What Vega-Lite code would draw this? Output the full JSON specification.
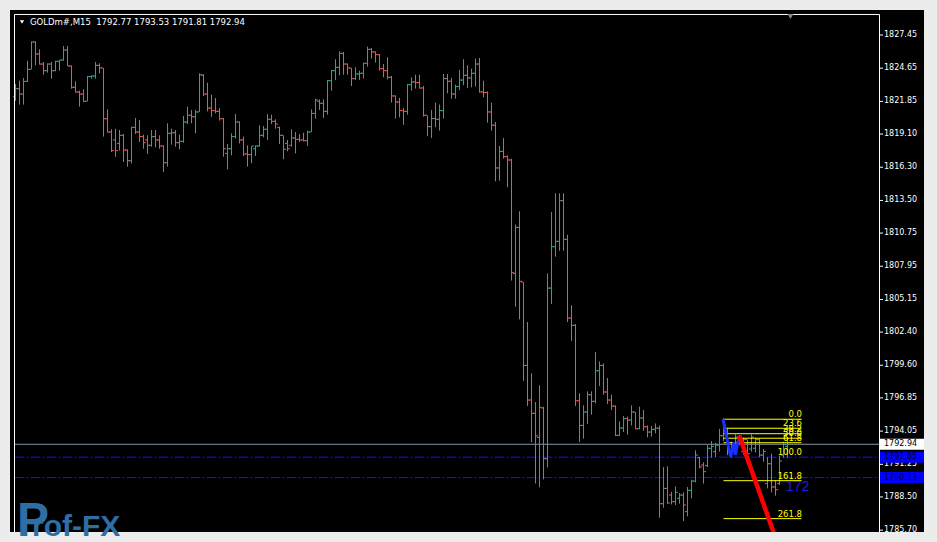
{
"$schema": "https://vega.github.io/schema/vega-lite/v6.json",
"width": 914, "height": 522,
"autosize": {"type": "none"},
"padding": {"left": 10, "top": 10, "right": 13, "bottom": 10},
"background": "#ececec",
"config": {"view": {"fill": "#000000", "stroke": null}},
"datasets": {
"ohlc": [
{"bar":1,"open":1822.25,"high":1823.32,"low":1821.91,"close":1822.92},
{"bar":2,"open":1822.92,"high":1823.60,"low":1821.58,"close":1822.47},
{"bar":3,"open":1822.47,"high":1823.82,"low":1821.58,"close":1823.54},
{"bar":4,"open":1823.54,"high":1825.28,"low":1823.49,"close":1824.55},
{"bar":5,"open":1824.55,"high":1826.92,"low":1824.55,"close":1826.86},
{"bar":6,"open":1826.86,"high":1826.92,"low":1824.89,"close":1825.85},
{"bar":7,"open":1825.85,"high":1826.24,"low":1824.95,"close":1825.00},
{"bar":8,"open":1825.00,"high":1825.17,"low":1824.10,"close":1824.44},
{"bar":9,"open":1824.44,"high":1825.06,"low":1824.27,"close":1825.00},
{"bar":10,"open":1825.00,"high":1825.17,"low":1823.77,"close":1824.44},
{"bar":11,"open":1824.44,"high":1825.28,"low":1824.39,"close":1825.23},
{"bar":12,"open":1825.23,"high":1825.34,"low":1824.44,"close":1825.34},
{"bar":13,"open":1825.34,"high":1826.52,"low":1825.28,"close":1826.18},
{"bar":14,"open":1826.18,"high":1826.52,"low":1824.83,"close":1824.83},
{"bar":15,"open":1824.83,"high":1824.89,"low":1822.92,"close":1823.04},
{"bar":16,"open":1823.04,"high":1823.54,"low":1822.59,"close":1822.64},
{"bar":17,"open":1822.64,"high":1822.76,"low":1821.41,"close":1822.47},
{"bar":18,"open":1822.47,"high":1822.87,"low":1821.80,"close":1821.86},
{"bar":19,"open":1821.86,"high":1823.99,"low":1821.86,"close":1823.94},
{"bar":20,"open":1823.94,"high":1824.05,"low":1823.77,"close":1823.99},
{"bar":21,"open":1823.99,"high":1825.17,"low":1823.77,"close":1824.89},
{"bar":22,"open":1824.89,"high":1825.06,"low":1824.22,"close":1824.67},
{"bar":23,"open":1824.67,"high":1824.67,"low":1818.88,"close":1820.39},
{"bar":24,"open":1820.39,"high":1821.18,"low":1819.21,"close":1819.27},
{"bar":25,"open":1819.27,"high":1819.50,"low":1817.58,"close":1817.70},
{"bar":26,"open":1818.60,"high":1819.55,"low":1817.19,"close":1817.70},
{"bar":27,"open":1818.31,"high":1819.44,"low":1817.70,"close":1818.99},
{"bar":28,"open":1818.99,"high":1819.10,"low":1816.74,"close":1817.75},
{"bar":29,"open":1817.75,"high":1817.81,"low":1816.35,"close":1816.85},
{"bar":30,"open":1816.85,"high":1819.72,"low":1816.63,"close":1819.66},
{"bar":31,"open":1819.66,"high":1820.45,"low":1819.10,"close":1819.27},
{"bar":32,"open":1819.27,"high":1820.28,"low":1818.43,"close":1818.88},
{"bar":33,"open":1818.88,"high":1819.05,"low":1817.86,"close":1818.37},
{"bar":34,"open":1818.60,"high":1818.99,"low":1817.42,"close":1818.15},
{"bar":35,"open":1818.15,"high":1819.44,"low":1818.03,"close":1818.88},
{"bar":36,"open":1818.88,"high":1819.44,"low":1817.98,"close":1818.60},
{"bar":37,"open":1818.60,"high":1818.99,"low":1817.86,"close":1818.09},
{"bar":38,"open":1818.09,"high":1818.15,"low":1815.90,"close":1816.68},
{"bar":39,"open":1816.68,"high":1820.00,"low":1816.35,"close":1819.16},
{"bar":40,"open":1819.16,"high":1819.55,"low":1818.20,"close":1819.21},
{"bar":41,"open":1819.21,"high":1819.44,"low":1818.03,"close":1818.37},
{"bar":42,"open":1818.37,"high":1819.05,"low":1817.81,"close":1818.48},
{"bar":43,"open":1818.48,"high":1820.62,"low":1818.37,"close":1820.11},
{"bar":44,"open":1820.11,"high":1821.41,"low":1819.94,"close":1820.68},
{"bar":45,"open":1820.68,"high":1821.13,"low":1820.00,"close":1820.56},
{"bar":46,"open":1820.56,"high":1821.13,"low":1819.16,"close":1820.96},
{"bar":47,"open":1820.96,"high":1824.22,"low":1820.96,"close":1824.10},
{"bar":48,"open":1824.05,"high":1824.16,"low":1822.31,"close":1822.47},
{"bar":49,"open":1822.47,"high":1823.43,"low":1821.01,"close":1821.29},
{"bar":50,"open":1821.29,"high":1822.42,"low":1820.56,"close":1821.07},
{"bar":51,"open":1821.07,"high":1822.14,"low":1820.84,"close":1821.01},
{"bar":52,"open":1821.01,"high":1821.29,"low":1820.23,"close":1820.39},
{"bar":53,"open":1820.39,"high":1820.45,"low":1817.19,"close":1817.86},
{"bar":54,"open":1817.47,"high":1818.26,"low":1816.12,"close":1817.86},
{"bar":55,"open":1817.86,"high":1819.16,"low":1817.30,"close":1818.88},
{"bar":56,"open":1818.88,"high":1820.79,"low":1818.71,"close":1820.11},
{"bar":57,"open":1820.11,"high":1820.17,"low":1818.31,"close":1818.60},
{"bar":58,"open":1818.60,"high":1818.88,"low":1817.25,"close":1817.42},
{"bar":59,"open":1817.42,"high":1818.15,"low":1816.35,"close":1817.36},
{"bar":60,"open":1817.36,"high":1818.09,"low":1816.63,"close":1818.09},
{"bar":61,"open":1817.86,"high":1818.15,"low":1817.25,"close":1818.09},
{"bar":62,"open":1818.09,"high":1819.83,"low":1818.03,"close":1818.99},
{"bar":63,"open":1818.99,"high":1819.78,"low":1818.82,"close":1819.50},
{"bar":64,"open":1819.50,"high":1820.79,"low":1818.60,"close":1820.34},
{"bar":65,"open":1820.34,"high":1820.73,"low":1819.94,"close":1820.17},
{"bar":66,"open":1820.17,"high":1820.34,"low":1819.55,"close":1819.94},
{"bar":67,"open":1819.66,"high":1819.72,"low":1818.26,"close":1818.99},
{"bar":68,"open":1818.99,"high":1818.99,"low":1816.97,"close":1817.81},
{"bar":69,"open":1818.31,"high":1818.60,"low":1817.64,"close":1817.86},
{"bar":70,"open":1818.15,"high":1819.50,"low":1818.03,"close":1818.76},
{"bar":71,"open":1818.76,"high":1819.27,"low":1817.47,"close":1818.65},
{"bar":72,"open":1818.65,"high":1819.10,"low":1818.43,"close":1818.60},
{"bar":73,"open":1818.60,"high":1819.21,"low":1818.48,"close":1818.54},
{"bar":74,"open":1818.54,"high":1819.38,"low":1818.09,"close":1819.27},
{"bar":75,"open":1819.27,"high":1821.18,"low":1819.27,"close":1820.84},
{"bar":76,"open":1820.84,"high":1822.08,"low":1820.39,"close":1821.97},
{"bar":77,"open":1821.86,"high":1822.02,"low":1821.13,"close":1821.69},
{"bar":78,"open":1821.69,"high":1822.02,"low":1820.45,"close":1821.01},
{"bar":79,"open":1821.01,"high":1823.65,"low":1820.73,"close":1823.60},
{"bar":80,"open":1823.60,"high":1824.50,"low":1822.76,"close":1824.44},
{"bar":81,"open":1824.44,"high":1825.40,"low":1823.65,"close":1824.72},
{"bar":82,"open":1824.72,"high":1826.07,"low":1824.05,"close":1825.90},
{"bar":83,"open":1825.90,"high":1826.02,"low":1824.10,"close":1825.00},
{"bar":84,"open":1825.00,"high":1825.06,"low":1824.10,"close":1824.67},
{"bar":85,"open":1824.67,"high":1824.67,"low":1823.15,"close":1823.77},
{"bar":86,"open":1823.77,"high":1824.72,"low":1823.65,"close":1824.16},
{"bar":87,"open":1824.16,"high":1824.44,"low":1823.65,"close":1824.22},
{"bar":88,"open":1824.22,"high":1825.12,"low":1823.77,"close":1825.06},
{"bar":89,"open":1825.06,"high":1826.47,"low":1824.78,"close":1826.24},
{"bar":90,"open":1826.24,"high":1826.36,"low":1825.46,"close":1826.02},
{"bar":91,"open":1826.02,"high":1826.07,"low":1825.12,"close":1825.79},
{"bar":92,"open":1825.79,"high":1825.85,"low":1824.44,"close":1824.61},
{"bar":93,"open":1824.61,"high":1825.00,"low":1823.88,"close":1824.44},
{"bar":94,"open":1824.44,"high":1825.57,"low":1823.71,"close":1823.88},
{"bar":95,"open":1823.88,"high":1824.00,"low":1821.75,"close":1822.31},
{"bar":96,"open":1822.31,"high":1822.36,"low":1820.40,"close":1821.80},
{"bar":97,"open":1821.80,"high":1822.14,"low":1820.51,"close":1821.07},
{"bar":98,"open":1821.07,"high":1821.30,"low":1819.89,"close":1821.01},
{"bar":99,"open":1821.01,"high":1823.32,"low":1820.73,"close":1823.26},
{"bar":100,"open":1823.26,"high":1823.88,"low":1822.76,"close":1823.49},
{"bar":101,"open":1823.49,"high":1824.10,"low":1822.93,"close":1823.43},
{"bar":102,"open":1823.43,"high":1824.10,"low":1822.93,"close":1822.98},
{"bar":103,"open":1822.98,"high":1823.15,"low":1820.57,"close":1820.68},
{"bar":104,"open":1820.68,"high":1820.68,"low":1818.94,"close":1819.72},
{"bar":105,"open":1819.72,"high":1821.13,"low":1818.77,"close":1820.40},
{"bar":106,"open":1820.40,"high":1821.75,"low":1819.67,"close":1820.34},
{"bar":107,"open":1820.34,"high":1821.58,"low":1819.39,"close":1821.07},
{"bar":108,"open":1821.07,"high":1824.16,"low":1820.40,"close":1823.77},
{"bar":109,"open":1823.77,"high":1824.16,"low":1822.53,"close":1823.55},
{"bar":110,"open":1823.55,"high":1823.83,"low":1822.08,"close":1822.48},
{"bar":111,"open":1822.48,"high":1823.26,"low":1822.08,"close":1823.10},
{"bar":112,"open":1823.10,"high":1824.50,"low":1822.81,"close":1823.65},
{"bar":113,"open":1823.65,"high":1825.40,"low":1823.21,"close":1824.05},
{"bar":114,"open":1824.05,"high":1824.89,"low":1822.98,"close":1823.83},
{"bar":115,"open":1823.83,"high":1824.61,"low":1823.04,"close":1824.22},
{"bar":116,"open":1824.22,"high":1825.46,"low":1823.10,"close":1825.00},
{"bar":117,"open":1825.00,"high":1825.51,"low":1822.59,"close":1822.65},
{"bar":118,"open":1822.65,"high":1823.60,"low":1822.20,"close":1822.59},
{"bar":119,"open":1822.59,"high":1822.70,"low":1820.06,"close":1820.96},
{"bar":120,"open":1820.96,"high":1821.75,"low":1819.39,"close":1819.84},
{"bar":121,"open":1819.84,"high":1820.12,"low":1815.11,"close":1816.24},
{"bar":122,"open":1816.24,"high":1818.09,"low":1815.17,"close":1817.64},
{"bar":123,"open":1817.64,"high":1818.77,"low":1817.02,"close":1817.19},
{"bar":124,"open":1817.19,"high":1817.30,"low":1814.61,"close":1816.91},
{"bar":125,"open":1816.91,"high":1817.02,"low":1806.74,"close":1807.41},
{"bar":126,"open":1807.35,"high":1811.46,"low":1804.54,"close":1811.23},
{"bar":127,"open":1811.23,"high":1812.58,"low":1803.47,"close":1806.68},
{"bar":128,"open":1806.62,"high":1806.62,"low":1798.30,"close":1799.59},
{"bar":129,"open":1799.59,"high":1803.25,"low":1796.16,"close":1796.67},
{"bar":130,"open":1796.67,"high":1798.92,"low":1793.13,"close":1795.55},
{"bar":131,"open":1795.55,"high":1796.50,"low":1789.64,"close":1793.64},
{"bar":132,"open":1793.52,"high":1797.91,"low":1789.31,"close":1796.05},
{"bar":133,"open":1796.00,"high":1796.11,"low":1789.98,"close":1791.72},
{"bar":134,"open":1791.72,"high":1807.35,"low":1790.99,"close":1806.11},
{"bar":135,"open":1806.11,"high":1812.52,"low":1804.77,"close":1809.60},
{"bar":136,"open":1809.60,"high":1814.10,"low":1808.76,"close":1810.05},
{"bar":137,"open":1810.05,"high":1814.10,"low":1809.26,"close":1813.48},
{"bar":138,"open":1813.48,"high":1814.10,"low":1809.26,"close":1810.22},
{"bar":139,"open":1810.22,"high":1810.61,"low":1803.25,"close":1803.58},
{"bar":140,"open":1803.58,"high":1804.65,"low":1801.67,"close":1802.97},
{"bar":141,"open":1802.97,"high":1803.08,"low":1796.16,"close":1796.61},
{"bar":142,"open":1796.61,"high":1797.23,"low":1793.13,"close":1794.53},
{"bar":143,"open":1794.53,"high":1796.22,"low":1793.41,"close":1795.66},
{"bar":144,"open":1795.66,"high":1797.40,"low":1794.65,"close":1797.12},
{"bar":145,"open":1797.12,"high":1797.40,"low":1795.43,"close":1796.56},
{"bar":146,"open":1796.56,"high":1800.72,"low":1796.39,"close":1799.14},
{"bar":147,"open":1799.14,"high":1799.93,"low":1797.85,"close":1799.59},
{"bar":148,"open":1799.59,"high":1799.76,"low":1797.12,"close":1797.35},
{"bar":149,"open":1797.35,"high":1798.53,"low":1796.33,"close":1796.67},
{"bar":150,"open":1796.67,"high":1797.12,"low":1795.83,"close":1796.16},
{"bar":151,"open":1796.16,"high":1796.22,"low":1793.64,"close":1793.69},
{"bar":152,"open":1793.69,"high":1794.87,"low":1793.64,"close":1794.31},
{"bar":153,"open":1794.31,"high":1795.32,"low":1793.97,"close":1795.10},
{"bar":154,"open":1795.10,"high":1795.27,"low":1793.75,"close":1794.98},
{"bar":155,"open":1794.98,"high":1796.22,"low":1794.53,"close":1795.66},
{"bar":156,"open":1795.66,"high":1795.66,"low":1794.20,"close":1794.25},
{"bar":157,"open":1794.25,"high":1796.11,"low":1794.20,"close":1795.15},
{"bar":158,"open":1795.15,"high":1795.83,"low":1794.08,"close":1794.42},
{"bar":159,"open":1794.42,"high":1794.53,"low":1793.52,"close":1793.97},
{"bar":160,"open":1793.97,"high":1794.48,"low":1793.58,"close":1794.20},
{"bar":161,"open":1794.20,"high":1794.70,"low":1793.86,"close":1794.31},
{"bar":162,"open":1794.28,"high":1794.51,"low":1786.75,"close":1787.93},
{"bar":163,"open":1787.93,"high":1791.02,"low":1787.59,"close":1789.22},
{"bar":164,"open":1789.22,"high":1791.08,"low":1787.93,"close":1787.99},
{"bar":165,"open":1788.66,"high":1788.94,"low":1787.87,"close":1788.10},
{"bar":166,"open":1788.10,"high":1789.39,"low":1787.82,"close":1788.89},
{"bar":167,"open":1788.38,"high":1788.83,"low":1787.93,"close":1788.66},
{"bar":168,"open":1788.66,"high":1788.89,"low":1786.47,"close":1787.82},
{"bar":169,"open":1787.26,"high":1789.34,"low":1786.86,"close":1789.06},
{"bar":170,"open":1789.06,"high":1789.95,"low":1788.38,"close":1789.84},
{"bar":171,"open":1789.84,"high":1792.43,"low":1789.73,"close":1792.03},
{"bar":172,"open":1791.81,"high":1791.87,"low":1790.91,"close":1791.02},
{"bar":173,"open":1791.19,"high":1791.42,"low":1789.62,"close":1790.63},
{"bar":174,"open":1791.14,"high":1792.88,"low":1791.02,"close":1792.60},
{"bar":175,"open":1792.60,"high":1793.22,"low":1791.81,"close":1792.77},
{"bar":176,"open":1792.32,"high":1793.05,"low":1791.87,"close":1792.88},
{"bar":177,"open":1792.88,"high":1794.23,"low":1792.32,"close":1793.66},
{"bar":178,"open":1793.66,"high":1795.13,"low":1793.22,"close":1794.56},
{"bar":179,"open":1794.00,"high":1794.28,"low":1792.03,"close":1792.32},
{"bar":180,"open":1792.32,"high":1793.16,"low":1791.81,"close":1792.93},
{"bar":181,"open":1792.93,"high":1793.78,"low":1792.15,"close":1793.55},
{"bar":182,"open":1793.55,"high":1793.72,"low":1792.99,"close":1793.16},
{"bar":183,"open":1792.32,"high":1793.50,"low":1792.03,"close":1793.33},
{"bar":184,"open":1793.33,"high":1793.33,"low":1791.81,"close":1792.15},
{"bar":185,"open":1792.54,"high":1793.78,"low":1792.32,"close":1793.55},
{"bar":186,"open":1792.60,"high":1793.50,"low":1792.26,"close":1793.33},
{"bar":187,"open":1793.33,"high":1793.44,"low":1791.87,"close":1792.03},
{"bar":188,"open":1792.03,"high":1792.54,"low":1791.47,"close":1792.32},
{"bar":189,"open":1789.62,"high":1791.87,"low":1789.22,"close":1791.30},
{"bar":190,"open":1791.30,"high":1792.15,"low":1788.89,"close":1789.34},
{"bar":191,"open":1789.34,"high":1789.90,"low":1788.61,"close":1789.11},
{"bar":192,"open":1789.62,"high":1791.98,"low":1789.51,"close":1791.53},
{"bar":193,"open":1792.03,"high":1793.16,"low":1791.81,"close":1792.93},
{"bar":194,"open":1792.77,"high":1793.53,"low":1791.81,"close":1792.94}
],
"yticks": [{"price": 1827.45}, {"price": 1824.65}, {"price": 1821.85}, {"price": 1819.10}, {"price": 1816.30}, {"price": 1813.50}, {"price": 1810.75}, {"price": 1807.95}, {"price": 1805.15}, {"price": 1802.40}, {"price": 1799.60}, {"price": 1796.85}, {"price": 1794.05}, {"price": 1791.25}, {"price": 1788.50}, {"price": 1785.70}],
"bid": [{"price": 1792.94}],
"levels": [{"price": 1791.85}, {"price": 1790.13}],
"boxes": [{"price": 1792.94, "kind": "bid"}, {"price": 1791.85, "kind": "level"}, {"price": 1790.13, "kind": "level"}],
"fib": [
{"level": "0.0", "price": 1795.05},
{"level": "23.6", "price": 1794.29},
{"level": "38.2", "price": 1793.83},
{"level": "50.0", "price": 1793.45},
{"level": "61.8", "price": 1793.07},
{"level": "100.0", "price": 1791.85},
{"level": "161.8", "price": 1789.87},
{"level": "261.8", "price": 1786.67}
],
"zigzag": [
{"seq": 1, "bar": 177.875, "price": 1795.07},
{"seq": 2, "bar": 179.8, "price": 1791.87},
{"seq": 3, "bar": 180.625, "price": 1793.11},
{"seq": 4, "bar": 180.95, "price": 1792.04},
{"seq": 5, "bar": 181.95, "price": 1793.66}
],
"trend": [
{"seq": 1, "bar": 181.95, "price": 1793.66},
{"seq": 2, "bar": 191.65, "price": 1784.45}
],
"one": [{}],
"title": [{"label": "GOLDm#,M15\u00a0 1792.77 1793.53 1791.81 1792.94"}],
"count": [{"label": "172"}],
"logoP": [{"label": "P"}],
"logoRest": [{"label": "rof-FX"}]
},
"layer": [
{
"data": {"name": "bid"},
"mark": {"type": "rule", "color": "#8796a4", "strokeWidth": 1},
"encoding": {
"x": {"datum": 0.75, "type": "quantitative", "scale": {"type": "linear", "domain": [-0.375, 228.125], "nice": false, "zero": false}, "axis": null},
"x2": {"datum": 217.0},
"y": {"field": "price", "type": "quantitative", "scale": {"type": "linear", "domain": [1785.543, 1829.557], "nice": false, "zero": false}, "axis": null}
}
},
{
"data": {"name": "levels"},
"mark": {"type": "rule", "color": "#0a14ff", "strokeWidth": 1, "strokeDash": [10, 2, 2, 2]},
"encoding": {
"x": {"datum": 0.75, "type": "quantitative", "scale": {"type": "linear", "domain": [-0.375, 228.125], "nice": false, "zero": false}, "axis": null},
"x2": {"datum": 217.0},
"y": {"field": "price", "type": "quantitative", "scale": {"type": "linear", "domain": [1785.543, 1829.557], "nice": false, "zero": false}, "axis": null}
}
},
{
"data": {"name": "ohlc"},
"mark": {"type": "rule", "strokeWidth": 1},
"encoding": {
"x": {"field": "bar", "type": "quantitative", "scale": {"type": "linear", "domain": [-0.375, 228.125], "nice": false, "zero": false}, "axis": null},
"y": {"field": "low", "type": "quantitative", "scale": {"type": "linear", "domain": [1785.543, 1829.557], "nice": false, "zero": false}, "axis": null},
"y2": {"field": "high"},
"color": {"condition": {"test": "datum.close >= datum.open", "value": "#26a69a"}, "value": "#ef5350"}
}
},
{
"data": {"name": "ohlc"},
"mark": {"type": "rule", "strokeWidth": 1, "xOffset": -2.5, "x2Offset": -0.5},
"encoding": {
"x": {"field": "bar", "type": "quantitative", "scale": {"type": "linear", "domain": [-0.375, 228.125], "nice": false, "zero": false}, "axis": null},
"x2": {"field": "bar"},
"y": {"field": "open", "type": "quantitative", "scale": {"type": "linear", "domain": [1785.543, 1829.557], "nice": false, "zero": false}, "axis": null},
"color": {"condition": {"test": "datum.close >= datum.open", "value": "#26a69a"}, "value": "#ef5350"}
}
},
{
"data": {"name": "ohlc"},
"mark": {"type": "rule", "strokeWidth": 1, "xOffset": 0.5, "x2Offset": 2.5},
"encoding": {
"x": {"field": "bar", "type": "quantitative", "scale": {"type": "linear", "domain": [-0.375, 228.125], "nice": false, "zero": false}, "axis": null},
"x2": {"field": "bar"},
"y": {"field": "close", "type": "quantitative", "scale": {"type": "linear", "domain": [1785.543, 1829.557], "nice": false, "zero": false}, "axis": null},
"color": {"condition": {"test": "datum.close >= datum.open", "value": "#26a69a"}, "value": "#ef5350"}
}
},
{
"data": {"name": "fib"},
"transform": [{"filter": "datum.level != '100.0'"}],
"mark": {"type": "rule", "color": "#ffff00", "strokeWidth": 1},
"encoding": {
"x": {"datum": 178.0, "type": "quantitative", "scale": {"type": "linear", "domain": [-0.375, 228.125], "nice": false, "zero": false}, "axis": null},
"x2": {"datum": 197.5},
"y": {"field": "price", "type": "quantitative", "scale": {"type": "linear", "domain": [1785.543, 1829.557], "nice": false, "zero": false}, "axis": null}
}
},
{
"data": {"name": "fib"},
"mark": {"type": "text", "color": "#ffff00", "font": "DejaVu Sans", "fontSize": 8.5, "align": "right", "baseline": "alphabetic", "dy": -2},
"encoding": {
"x": {"datum": 197.625, "type": "quantitative", "scale": {"type": "linear", "domain": [-0.375, 228.125], "nice": false, "zero": false}, "axis": null},
"y": {"field": "price", "type": "quantitative", "scale": {"type": "linear", "domain": [1785.543, 1829.557], "nice": false, "zero": false}, "axis": null},
"text": {"field": "level"}
}
},
{
"data": {"name": "zigzag"},
"mark": {"type": "line", "color": "#1530ff", "strokeWidth": 3},
"encoding": {
"x": {"field": "bar", "type": "quantitative", "scale": {"type": "linear", "domain": [-0.375, 228.125], "nice": false, "zero": false}, "axis": null},
"y": {"field": "price", "type": "quantitative", "scale": {"type": "linear", "domain": [1785.543, 1829.557], "nice": false, "zero": false}, "axis": null},
"order": {"field": "seq"}
}
},
{
"data": {"name": "trend"},
"mark": {"type": "line", "color": "#ff0000", "strokeWidth": 4.5, "clip": true},
"encoding": {
"x": {"field": "bar", "type": "quantitative", "scale": {"type": "linear", "domain": [-0.375, 228.125], "nice": false, "zero": false}, "axis": null},
"y": {"field": "price", "type": "quantitative", "scale": {"type": "linear", "domain": [1785.543, 1829.557], "nice": false, "zero": false}, "axis": null},
"order": {"field": "seq"}
}
},
{
"data": {"name": "count"},
"mark": {"type": "text", "color": "#1c1ce6", "font": "Liberation Sans", "fontSize": 14, "align": "left", "baseline": "alphabetic"},
"encoding": {
"x": {"datum": 193.625, "type": "quantitative", "scale": {"type": "linear", "domain": [-0.375, 228.125], "nice": false, "zero": false}, "axis": null},
"y": {"datum": 1789.0, "type": "quantitative", "scale": {"type": "linear", "domain": [1785.543, 1829.557], "nice": false, "zero": false}, "axis": null},
"text": {"field": "label"}
}
},
{
"data": {"name": "yticks"},
"mark": {"type": "rule", "color": "#ffffff", "strokeWidth": 1},
"encoding": {
"x": {"datum": 217.0, "type": "quantitative", "scale": {"type": "linear", "domain": [-0.375, 228.125], "nice": false, "zero": false}, "axis": null},
"x2": {"datum": 217.875},
"y": {"field": "price", "type": "quantitative", "scale": {"type": "linear", "domain": [1785.543, 1829.557], "nice": false, "zero": false}, "axis": null}
}
},
{
"data": {"name": "yticks"},
"mark": {"type": "text", "color": "#ffffff", "font": "DejaVu Sans", "fontSize": 8, "align": "left", "baseline": "middle"},
"encoding": {
"x": {"datum": 218.125, "type": "quantitative", "scale": {"type": "linear", "domain": [-0.375, 228.125], "nice": false, "zero": false}, "axis": null},
"y": {"field": "price", "type": "quantitative", "scale": {"type": "linear", "domain": [1785.543, 1829.557], "nice": false, "zero": false}, "axis": null},
"text": {"field": "price", "type": "quantitative", "format": ".2f"}
}
},
{
"data": {"name": "boxes"},
"mark": {"type": "rule", "strokeWidth": 11, "strokeCap": "butt"},
"encoding": {
"x": {"datum": 217.125, "type": "quantitative", "scale": {"type": "linear", "domain": [-0.375, 228.125], "nice": false, "zero": false}, "axis": null},
"x2": {"datum": 228.125},
"y": {"field": "price", "type": "quantitative", "scale": {"type": "linear", "domain": [1785.543, 1829.557], "nice": false, "zero": false}, "axis": null},
"color": {"condition": {"test": "datum.kind == 'bid'", "value": "#ffffff"}, "value": "#0000ff"}
}
},
{
"data": {"name": "boxes"},
"mark": {"type": "text", "font": "DejaVu Sans", "fontSize": 8, "align": "left", "baseline": "middle"},
"encoding": {
"x": {"datum": 218.125, "type": "quantitative", "scale": {"type": "linear", "domain": [-0.375, 228.125], "nice": false, "zero": false}, "axis": null},
"y": {"field": "price", "type": "quantitative", "scale": {"type": "linear", "domain": [1785.543, 1829.557], "nice": false, "zero": false}, "axis": null},
"text": {"field": "price", "type": "quantitative", "format": ".2f"},
"color": {"condition": {"test": "datum.kind == 'bid'", "value": "#000000"}, "value": "#00003a"}
}
},
{
"data": {"name": "one"},
"mark": {"type": "rule", "color": "#ffffff", "strokeWidth": 1},
"encoding": {
"x": {"datum": 0.75, "type": "quantitative", "scale": {"type": "linear", "domain": [-0.375, 228.125], "nice": false, "zero": false}, "axis": null},
"y": {"datum": 1829.18, "type": "quantitative", "scale": {"type": "linear", "domain": [1785.543, 1829.557], "nice": false, "zero": false}, "axis": null},
"y2": {"datum": 1785.543}
}
},
{
"data": {"name": "one"},
"mark": {"type": "rule", "color": "#ffffff", "strokeWidth": 1},
"encoding": {
"x": {"datum": 217.0, "type": "quantitative", "scale": {"type": "linear", "domain": [-0.375, 228.125], "nice": false, "zero": false}, "axis": null},
"y": {"datum": 1829.18, "type": "quantitative", "scale": {"type": "linear", "domain": [1785.543, 1829.557], "nice": false, "zero": false}, "axis": null},
"y2": {"datum": 1785.543}
}
},
{
"data": {"name": "one"},
"mark": {"type": "rule", "color": "#ffffff", "strokeWidth": 1},
"encoding": {
"x": {"datum": 0.75, "type": "quantitative", "scale": {"type": "linear", "domain": [-0.375, 228.125], "nice": false, "zero": false}, "axis": null},
"x2": {"datum": 217.0},
"y": {"datum": 1829.18, "type": "quantitative", "scale": {"type": "linear", "domain": [1785.543, 1829.557], "nice": false, "zero": false}, "axis": null}
}
},
{
"data": {"name": "title"},
"mark": {"type": "text", "color": "#ffffff", "font": "DejaVu Sans", "fontSize": 8.5, "align": "left", "baseline": "middle"},
"encoding": {
"x": {"datum": 4.625, "type": "quantitative", "scale": {"type": "linear", "domain": [-0.375, 228.125], "nice": false, "zero": false}, "axis": null},
"y": {"datum": 1828.545, "type": "quantitative", "scale": {"type": "linear", "domain": [1785.543, 1829.557], "nice": false, "zero": false}, "axis": null},
"text": {"field": "label"}
}
},
{
"data": {"name": "one"},
"mark": {"type": "point", "shape": "triangle-down", "filled": true, "color": "#ffffff", "opacity": 1, "size": 18},
"encoding": {
"x": {"datum": 2.625, "type": "quantitative", "scale": {"type": "linear", "domain": [-0.375, 228.125], "nice": false, "zero": false}, "axis": null},
"y": {"datum": 1828.545, "type": "quantitative", "scale": {"type": "linear", "domain": [1785.543, 1829.557], "nice": false, "zero": false}, "axis": null}
}
},
{
"data": {"name": "one"},
"mark": {"type": "point", "shape": "triangle-down", "filled": true, "color": "#7a8896", "opacity": 1, "size": 35},
"encoding": {
"x": {"datum": 194.75, "type": "quantitative", "scale": {"type": "linear", "domain": [-0.375, 228.125], "nice": false, "zero": false}, "axis": null},
"y": {"datum": 1829.01, "type": "quantitative", "scale": {"type": "linear", "domain": [1785.543, 1829.557], "nice": false, "zero": false}, "axis": null}
}
},
{
"data": {"name": "logoP"},
"mark": {"type": "text", "color": "#2e6ea5", "font": "Liberation Sans", "fontWeight": "bold", "fontSize": 48, "align": "left", "baseline": "alphabetic"},
"encoding": {
"x": {"datum": 1.375, "type": "quantitative", "scale": {"type": "linear", "domain": [-0.375, 228.125], "nice": false, "zero": false}, "axis": null},
"y": {"datum": 1785.21, "type": "quantitative", "scale": {"type": "linear", "domain": [1785.543, 1829.557], "nice": false, "zero": false}, "axis": null},
"text": {"field": "label"}
}
},
{
"data": {"name": "logoRest"},
"mark": {"type": "text", "color": "#2e6ea5", "font": "Liberation Sans", "fontWeight": "bold", "fontSize": 30, "align": "left", "baseline": "alphabetic"},
"encoding": {
"x": {"datum": 5.125, "type": "quantitative", "scale": {"type": "linear", "domain": [-0.375, 228.125], "nice": false, "zero": false}, "axis": null},
"y": {"datum": 1785.21, "type": "quantitative", "scale": {"type": "linear", "domain": [1785.543, 1829.557], "nice": false, "zero": false}, "axis": null},
"text": {"field": "label"}
}
}
]
}
